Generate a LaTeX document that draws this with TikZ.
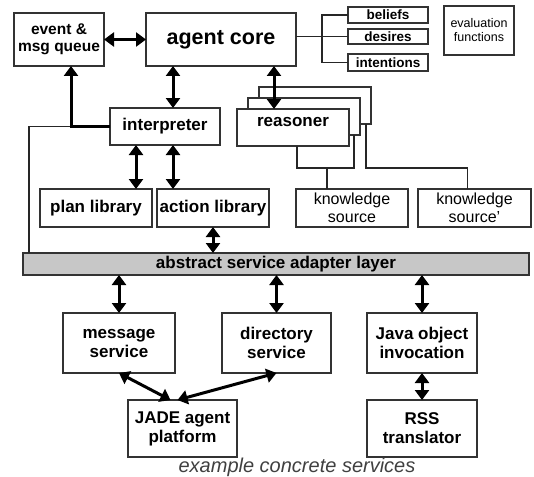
\documentclass[tikz,border=0pt]{standalone}
\usepackage{fontspec}
\setmainfont{Liberation Sans}
\usetikzlibrary{arrows.meta}

\begin{document}
\begin{tikzpicture}[x=1pt, y=-1pt,
	box/.style={draw=black!80, line width=1.6pt, inner sep=0pt, outer sep=0pt, align=center, font=\bfseries\fontsize{17}{19}\selectfont},
	sz/.style 2 args={minimum width=#1pt, minimum height=#2pt},
	light/.style={font=\fontsize{16}{18}\selectfont},
	dbl/.style={{Triangle[length=10pt,width=14pt]}-{Triangle[length=10pt,width=14pt]}, line width=3pt},
	sgl/.style={-{Triangle[length=10pt,width=14pt]}, line width=3pt},
	conn/.style={draw=black!85, line width=1.3pt}]
	\useasboundingbox (0,0) rectangle (534,476);
	% agent side
	\node[box, sz={90}{53}, font=\bfseries\fontsize{15.5}{17.5}\selectfont] (queue) at (59,39.5) {event \&\\msg queue};
	\node[box, sz={150}{53}, font=\bfseries\fontsize{21.5}{24}\selectfont] (core) at (221,39.5) {agent core};
	\node[box, sz={80}{16}, line width=1.3pt, font=\bfseries\fontsize{13.5}{15}\selectfont] (beliefs) at (388,15) {beliefs};
	\node[box, sz={80}{15}, line width=1.3pt, font=\bfseries\fontsize{13.5}{15}\selectfont] (desires) at (388,36.5) {desires};
	\node[box, sz={80}{17}, line width=1.3pt, font=\bfseries\fontsize{13.5}{15}\selectfont] (intentions) at (388,62.5) {intentions};
	\node[box, sz={70}{49}, line width=1.3pt, font=\fontsize{12.5}{14}\selectfont] (evalf) at (479,30.5) {evaluation\\functions};
	\node[box, sz={110}{37}] (interp) at (165,126.5) {interpreter};
	\foreach \n/\cx/\cy in {r3/315/105.5, r2/304/116.5} {
		\node[box, sz={112}{37}, fill=white] (\n) at (\cx,\cy) {};
	}
	\node[box, sz={112}{37}, fill=white, text depth=12pt] (r1) at (293,127.5) {reasoner};
	\node[box, sz={112}{38}, light] (ks1) at (352,208) {knowledge\\source};
	\node[box, sz={113}{38}, light] (ks2) at (474.5,208) {knowledge\\source'};
	\node[box, sz={112}{38}] (plan) at (96,208) {plan library};
	\node[box, sz={112}{38}] (action) at (213,208) {action library};
	\node[box, sz={506}{22}, fill=black!22] (layer) at (276,264) {abstract service adapter layer};
	% concrete services
	\node[box, sz={112}{60}] (msg) at (119,343) {message\\service};
	\node[box, sz={109}{60}] (dir) at (276.5,343) {directory\\service};
	\node[box, sz={110}{60}] (java) at (422,343) {Java object\\invocation};
	\node[box, sz={109}{57}] (jade) at (182.5,428.5) {JADE agent\\platform};
	\node[box, sz={110}{57}] (rss) at (422,428.5) {RSS\\translator};
	\node[font=\itshape\fontsize{20}{22}\selectfont, text=black!75, inner sep=0pt] (cap) at (297,467) {example concrete services};
	% beliefs, desires, intentions
	\coordinate (bk) at (322,36.5);
	\draw[conn] (core.east |- desires.west) -- (desires.west);
	\draw[conn] (beliefs.west) -| (bk) |- (intentions.west);
	% reasoner to knowledge sources
	\draw[conn] ([xshift=4pt]r1.south) -- ++(0,22) -| ([xshift=50pt]r2.south);
	\draw[conn] ([xshift=-25pt]ks1.north) -- ++(0,-21);
	\draw[conn] ([xshift=51pt]r3.south) |- ([xshift=-7pt, yshift=21pt]ks2.north) -- ([xshift=-7pt]ks2.north);
	% interpreter feedback
	\draw[conn] ([xshift=6pt]layer.north west) |- ([xshift=12pt]queue.south |- interp.west);
	\draw[sgl] (interp.west) -| ([xshift=12pt]queue.south);
	% arrows
	\draw[dbl] (queue.east) -- (core.west);
	\draw[dbl] ([xshift=8pt]interp.north |- core.south) -- ([xshift=8pt]interp.north);
	\draw[dbl] ([xshift=-19pt]r1.north |- core.south) -- ([xshift=-19pt]r1.north);
	\draw[dbl] ([xshift=-29pt]interp.south) -- ([xshift=-29pt]interp.south |- plan.north);
	\draw[dbl] ([xshift=8pt]interp.south) -- ([xshift=8pt]interp.south |- action.north);
	\draw[dbl] (action.south) -- (action.south |- layer.north);
	\foreach \s in {msg, dir, java} {
		\draw[dbl] (\s.north |- layer.south) -- (\s.north);
	}
	\draw[dbl] (msg.south) -- ([xshift=-12pt]jade.north);
	\draw[dbl] (dir.south) -- ([xshift=-5pt]jade.north);
	\draw[dbl] (java.south) -- (rss.north);
\end{tikzpicture}
\end{document}
